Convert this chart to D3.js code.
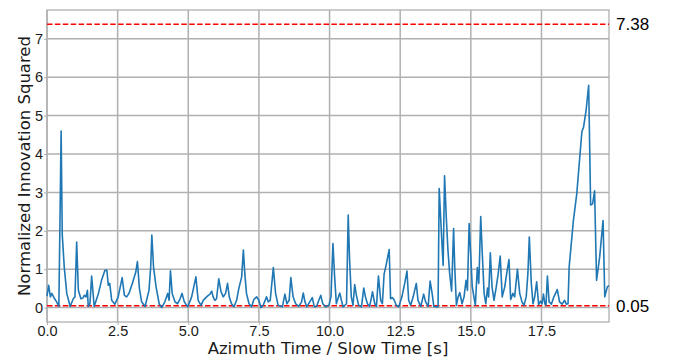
<!DOCTYPE html>
<html lang="en">
    <head>
        <meta charset="utf-8">
        <title>Normalized Innovation Squared</title>
        <script src="https://d3js.org/d3.v7.min.js"></script>
        <style>
            body {
                margin: 0;
                background-color: #ffffff;
            }
            svg {
                font-family: "DejaVu Sans", sans-serif;
            }
            .grid line {
                stroke: #b0b0b0;
                stroke-width: 1.5;
            }
            .axis path, .axis line {
                stroke: #b0b0b0;
            }
            .axis text {
                fill: #1a1a1a;
                font-size: 14.5px;
            }
        </style>
    </head>
    <body>
        <svg id="chart"></svg>
        <script>
            // data
            const times = [0.00, 0.06, 0.12, 0.17, 0.22, 0.27, 0.34, 0.42, 0.50, 0.54, 0.61, 0.70, 0.82, 0.93, 0.99,
                1.05, 1.11, 1.20, 1.27, 1.32, 1.38, 1.43, 1.46, 1.52, 1.58, 1.67, 1.82, 1.93, 2.05, 2.12, 2.17, 2.22,
                2.29, 2.40, 2.52, 2.66, 2.74, 2.82, 2.90, 3.02, 3.14, 3.20, 3.27, 3.35, 3.47, 3.61, 3.67, 3.71, 3.77,
                3.86, 3.97, 4.06, 4.17, 4.27, 4.32, 4.37, 4.43, 4.53, 4.62, 4.71, 4.78, 4.86, 4.98, 5.12, 5.27, 5.35,
                5.45, 5.53, 5.57, 5.65, 5.71, 5.77, 5.83, 5.88, 5.94, 6.00, 6.08, 6.16, 6.24, 6.32, 6.39, 6.45, 6.53,
                6.62, 6.71, 6.79, 6.89, 6.95, 7.00, 7.06, 7.15, 7.24, 7.32, 7.42, 7.50, 7.57, 7.65, 7.77, 7.83, 7.90,
                8.01, 8.09, 8.18, 8.33, 8.42, 8.49, 8.57, 8.63, 8.71, 8.80, 8.91, 9.01, 9.07, 9.13, 9.19, 9.30, 9.39,
                9.46, 9.54, 9.62, 9.69, 9.76, 9.86, 9.98, 10.05, 10.12, 10.18, 10.24, 10.36, 10.42, 10.48, 10.60,
                10.66, 10.71, 10.77, 10.83, 10.89, 10.95, 11.03, 11.13, 11.21, 11.27, 11.34, 11.42, 11.52, 11.60,
                11.66, 11.73, 11.81, 11.87, 11.93, 12.00, 12.11, 12.16, 12.22, 12.28, 12.36, 12.45, 12.56, 12.66,
                12.74, 12.80, 12.87, 12.96, 13.07, 13.13, 13.23, 13.33, 13.40, 13.49, 13.56, 13.63, 13.69, 13.78,
                13.84, 13.88, 13.96, 14.02, 14.07, 14.13, 14.19, 14.25, 14.32, 14.39, 14.43, 14.49, 14.55, 14.61,
                14.69, 14.76, 14.83, 14.88, 14.94, 15.00, 15.05, 15.16, 15.23, 15.28, 15.30, 15.35, 15.40, 15.47,
                15.53, 15.59, 15.63, 15.69, 15.75, 15.82, 15.90, 15.97, 16.04, 16.11, 16.20, 16.27, 16.35, 16.41,
                16.49, 16.55, 16.65, 16.73, 16.81, 16.88, 16.96, 17.02, 17.07, 17.14, 17.20, 17.26, 17.33, 17.40,
                17.47, 17.52, 17.57, 17.62, 17.66, 17.71, 17.77, 17.85, 17.94, 18.06, 18.14, 18.23, 18.32, 18.38,
                18.44, 18.48, 18.63, 18.75, 18.93, 18.99, 19.08, 19.17, 19.24, 19.31, 19.38, 19.45, 19.56, 19.68,
                19.74, 19.83, 19.89];
            const nis = [0.30, 0.58, 0.28, 0.37, 0.30, 0.23, 0.15, 0.03, 4.60, 1.90, 1.06, 0.37, 0.03, 0.23, 0.28,
                1.71, 0.45, 0.23, 0.25, 0.32, 0.28, 0.45, 0.03, 0.10, 0.82, 0.03, 0.37, 0.71, 0.97, 0.97, 0.58, 0.63,
                0.19, 0.09, 0.28, 0.78, 0.32, 0.28, 0.37, 0.63, 0.92, 1.20, 0.50, 0.15, 0.03, 0.45, 1.06, 1.89, 1.06,
                0.54, 0.10, 0.00, 0.15, 0.37, 0.19, 0.96, 0.37, 0.15, 0.10, 0.23, 0.37, 0.15, 0.02, 0.28, 0.80, 0.19,
                0.06, 0.19, 0.22, 0.28, 0.32, 0.35, 0.43, 0.28, 0.19, 0.23, 0.75, 0.41, 0.28, 0.37, 0.63, 0.28, 0.10,
                0.02, 0.19, 0.50, 0.80, 1.50, 0.89, 0.37, 0.10, 0.02, 0.21, 0.28, 0.19, 0.00, 0.06, 0.28, 0.15, 0.19,
                1.04, 0.37, 0.06, 0.02, 0.35, 0.10, 0.19, 0.78, 0.28, 0.10, 0.03, 0.15, 0.38, 0.15, 0.02, 0.15, 0.26,
                0.02, 0.03, 0.19, 0.32, 0.10, 0.02, 0.06, 0.28, 1.67, 0.80, 0.10, 0.38, 0.19, 0.02, 0.10,
                2.41, 1.23, 0.28, 0.06, 0.60, 0.32, 0.06, 0.02, 0.51, 0.28, 0.10, 0.03, 0.41, 0.10,
                0.03, 0.82, 0.19, 0.10, 0.87, 1.10, 1.51, 0.23, 0.26, 0.21, 0.06, 0.02, 0.28, 0.63,
                0.95, 0.19, 0.06, 0.28, 0.63, 0.19, 0.03, 0.35, 0.15, 0.03, 0.69, 0.37, 0.03, 0.02,
                0.02, 3.10, 1.93, 1.10, 3.43, 2.37, 1.50, 0.89, 0.43, 2.06, 1.06, 0.06, 0.28, 0.39,
                0.10, 0.28, 0.71, 0.45, 2.19, 1.32, 0.54, 0.06, 1.04, 0.63, 1.06, 2.37, 1.50, 0.37,
                0.10, 0.51, 0.28, 1.43, 0.54, 0.19, 0.54, 0.89, 1.34, 0.28, 0.54, 0.89, 1.25, 0.21,
                0.37, 0.28, 1.00, 0.37, 0.15, 0.06, 0.28, 0.89, 1.84, 0.63, 0.10, 0.28, 0.67, 0.08,
                0.17, 0.10, 0.35, 0.10, 0.06, 0.82, 0.15, 0.09, 0.28, 0.47, 0.15, 0.09, 0.19, 0.09,
                0.10, 1.06, 2.27, 2.97, 4.58, 4.70, 5.14, 5.79, 2.67, 2.70, 3.04, 0.71, 1.32, 2.27,
                0.28, 0.54, 0.57];
            const bounds = [7.38, 0.05];
            const xTicks = [0, 2.5, 5, 7.5, 10, 12.5, 15, 17.5];
            const yTicks = [0, 1, 2, 3, 4, 5, 6, 7];

            //chart dimensions
            const width = 677;
            const height = 358;
            const margin = { top: 10, right: 68, bottom: 36, left: 47 };

            const svg = d3.select("#chart")
                .attr("width", width)
                .attr("height", height);

            //scales
            const xScale = d3.scaleLinear()
                .domain([0, 19.89])
                .range([margin.left, width - margin.right]);

            const yScale = d3.scaleLinear()
                .domain([-0.375, 7.75])
                .range([height - margin.bottom, margin.top]);

            //grid
            svg.append("g")
                .attr("class", "grid")
                .selectAll("line")
                .data(xTicks)
                .join("line")
                .attr("x1", d => xScale(d))
                .attr("x2", d => xScale(d))
                .attr("y1", yScale.range()[0])
                .attr("y2", yScale.range()[1]);

            svg.append("g")
                .attr("class", "grid")
                .selectAll("line")
                .data(yTicks)
                .join("line")
                .attr("x1", xScale.range()[0])
                .attr("x2", xScale.range()[1])
                .attr("y1", d => yScale(d))
                .attr("y2", d => yScale(d));

            //axes
            const xAxis = d3.axisBottom(xScale)
                .tickValues(xTicks)
                .tickFormat(d3.format(".1f"))
                .tickSize(3)
                .tickPadding(1);

            const yAxis = d3.axisLeft(yScale)
                .tickValues(yTicks)
                .tickFormat(d3.format("d"))
                .tickSize(3)
                .tickPadding(1);

            svg.append("g")
                .attr("class", "axis")
                .attr("transform", `translate(0, ${yScale.range()[0]})`)
                .call(xAxis)
                .call(g => g.select(".domain").remove());

            svg.append("g")
                .attr("class", "axis")
                .attr("transform", `translate(${margin.left}, 0)`)
                .call(yAxis)
                .call(g => g.select(".domain").remove());

            //frame
            svg.append("rect")
                .attr("x", xScale.range()[0])
                .attr("y", yScale.range()[1])
                .attr("width", xScale.range()[1] - xScale.range()[0])
                .attr("height", yScale.range()[0] - yScale.range()[1])
                .attr("fill", "none")
                .attr("stroke", "#b0b0b0")
                .attr("stroke-width", 1.3);

            //bound lines
            svg.selectAll(".bound")
                .data(bounds)
                .join("line")
                .attr("class", "bound")
                .attr("x1", xScale.range()[0])
                .attr("x2", xScale.range()[1])
                .attr("y1", d => yScale(d))
                .attr("y2", d => yScale(d))
                .attr("stroke", "#ff0000")
                .attr("stroke-width", 1.5)
                .attr("stroke-dasharray", "5.5,2.4");

            svg.selectAll(".bound-label")
                .data(bounds)
                .join("text")
                .attr("class", "bound-label")
                .attr("x", xScale.range()[1] + 7)
                .attr("y", d => yScale(d))
                .attr("dy", "0.36em")
                .style("font-family", "'Liberation Sans', Arial, sans-serif")
                .style("font-size", "17px")
                .text(d => d.toFixed(2));

            //line
            const line = d3.line()
                .x((d, i) => xScale(times[i]))
                .y(d => yScale(d));

            svg.append("path")
                .datum(nis)
                .attr("fill", "none")
                .attr("stroke", "#1f77b4")
                .attr("stroke-width", 1.6)
                .attr("stroke-linejoin", "round")
                .attr("d", line);

            //labels
            svg.append("text")
                .attr("x", (xScale.range()[0] + xScale.range()[1]) / 2)
                .attr("y", height - 4)
                .attr("text-anchor", "middle")
                .style("font-size", "16.5px")
                .attr("fill", "#1a1a1a")
                .text("Azimuth Time / Slow Time [s]");

            svg.append("text")
                .attr("transform", `translate(24, ${(yScale.range()[0] + yScale.range()[1]) / 2}) rotate(-90)`)
                .attr("dy", "0.35em")
                .attr("text-anchor", "middle")
                .style("font-size", "16.5px")
                .attr("fill", "#1a1a1a")
                .text("Normalized Innovation Squared");
        </script>
    </body>
</html>
